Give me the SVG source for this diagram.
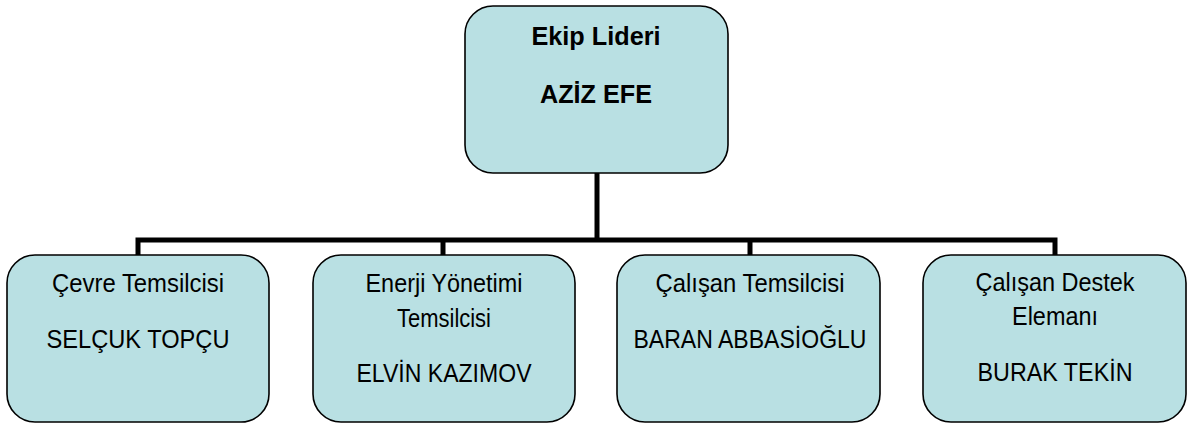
<svg xmlns="http://www.w3.org/2000/svg" width="1190" height="426" viewBox="0 0 1190 426">
<style>
.box{fill:#B9E0E3;stroke:#000;stroke-width:1.6}
.t{font-family:"Liberation Sans",Arial,sans-serif;font-size:25.5px;fill:#000;text-anchor:middle}
.b{font-weight:bold;font-size:26px}
.c{fill:none;stroke:#000;stroke-width:5;stroke-linejoin:miter}
</style>
<rect width="1190" height="426" fill="#fff"/>
<g id="connectors">
<path class="c" d="M597 173 V240"/>
<path class="c" d="M138 255 V240 H1055 V255"/>
<path class="c" d="M443 240 V255"/>
<path class="c" d="M750 240 V255"/>
</g>
<g id="leader">
<rect class="box" x="465" y="6" width="263" height="167" rx="28"/>
<text class="t b" x="596" y="45" textLength="129" lengthAdjust="spacingAndGlyphs">Ekip Lideri</text>
<text class="t b" x="596" y="103" textLength="112" lengthAdjust="spacingAndGlyphs">AZİZ EFE</text>
</g>
<g id="cevre">
<rect class="box" x="7" y="255" width="262" height="167" rx="28"/>
<text class="t" x="138" y="292" textLength="172" lengthAdjust="spacingAndGlyphs">Çevre Temsilcisi</text>
<text class="t" x="138" y="348" textLength="183" lengthAdjust="spacingAndGlyphs">SELÇUK TOPÇU</text>
</g>
<g id="enerji">
<rect class="box" x="313" y="255" width="262" height="167" rx="28"/>
<text class="t" x="444" y="292" textLength="157" lengthAdjust="spacingAndGlyphs">Enerji Yönetimi</text>
<text class="t" x="444" y="327" textLength="94" lengthAdjust="spacingAndGlyphs">Temsilcisi</text>
<text class="t" x="444" y="382" textLength="175" lengthAdjust="spacingAndGlyphs">ELVİN KAZIMOV</text>
</g>
<g id="calisan">
<rect class="box" x="617" y="255" width="263" height="167" rx="28"/>
<text class="t" x="750" y="292" textLength="189" lengthAdjust="spacingAndGlyphs">Çalışan Temsilcisi</text>
<text class="t" x="750" y="348" textLength="233" lengthAdjust="spacingAndGlyphs">BARAN ABBASİOĞLU</text>
</g>
<g id="destek">
<rect class="box" x="923" y="255" width="263" height="167" rx="28"/>
<text class="t" x="1055" y="291" textLength="159" lengthAdjust="spacingAndGlyphs">Çalışan Destek</text>
<text class="t" x="1055" y="325" textLength="86" lengthAdjust="spacingAndGlyphs">Elemanı</text>
<text class="t" x="1055" y="381" textLength="155" lengthAdjust="spacingAndGlyphs">BURAK TEKİN</text>
</g>
</svg>
